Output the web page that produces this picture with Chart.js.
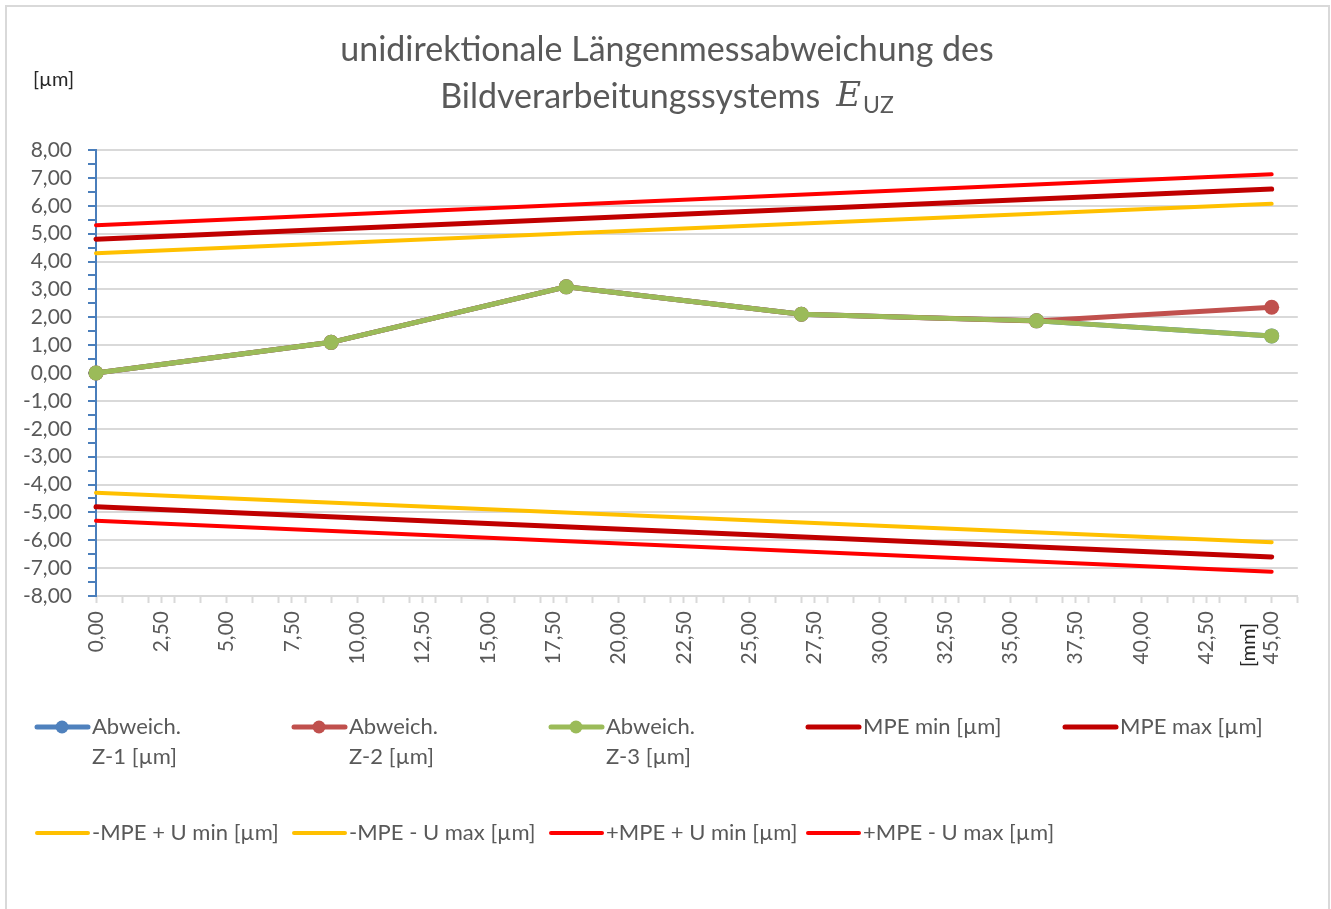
<!DOCTYPE html>
<html>
<head>
<meta charset="utf-8">
<script src="https://cdn.jsdelivr.net/npm/chart.js@4.4.1/dist/chart.umd.min.js"></script>
<style>
  html, body { margin: 0; background: #fff; }
  #box { width: 1331px; height: 909px; position: relative; }
</style>
</head>
<body>
<div id="box"><canvas id="c"></canvas></div>
<script>
// Messpositionen [mm] und Abweichungen [µm]
const positions = [0, 9, 18, 27, 36, 45];
const abweichZ1 = [0, 1.10, 3.09, 2.11, 1.87, 1.33];
const abweichZ2 = [0, 1.10, 3.09, 2.11, 1.87, 2.36];
const abweichZ3 = [0, 1.10, 3.09, 2.11, 1.87, 1.33];

// Grenzlinien (nur Anfangs- und Endpunkt)
const limitPositions = [0, 45];
const mpeMin = [-4.80, -6.60];
const mpeMax = [4.80, 6.60];
const mpeUMinNeg = [-4.30, -6.07];
const mpeUMaxNeg = [4.30, 6.07];
const mpeUMinPos = [-5.30, -7.13];
const mpeUMaxPos = [5.30, 7.13];

const seriesNames = [
  'Abweich.\nZ-1 [µm]', 'Abweich.\nZ-2 [µm]', 'Abweich.\nZ-3 [µm]',
  'MPE min [µm]', 'MPE max [µm]',
  '-MPE + U min [µm]', '-MPE - U max [µm]', '+MPE + U min [µm]', '+MPE - U max [µm]'
];

const FONT = 'Lato, "Open Sans", sans-serif';
const GREY = '#595959';
const fmt = v => v.toFixed(2).replace('.', ',');
const pts = (xs, ys) => xs.map((x, i) => ({ x, y: ys[i] }));

const dataSeries = (i, ys, color, order) => ({
  label: seriesNames[i].replace('\n', ' '),
  data: pts(positions, ys),
  borderColor: color, backgroundColor: color,
  borderWidth: 5, pointRadius: 7.5, pointHoverRadius: 7.5,
  pointBorderWidth: 0, clip: false, order
});
const limitSeries = (i, ys, color, width) => ({
  label: seriesNames[i],
  data: pts(limitPositions, ys),
  borderColor: color, backgroundColor: color,
  borderWidth: width, pointRadius: 0, borderCapStyle: 'round', clip: false, order: 10
});

const datasets = [
  dataSeries(0, abweichZ1, '#4F81BD', 3),
  dataSeries(1, abweichZ2, '#C0504D', 2),
  dataSeries(2, abweichZ3, '#9BBB59', 1),
  limitSeries(3, mpeMin, '#C00000', 5),
  limitSeries(4, mpeMax, '#C00000', 5),
  limitSeries(5, mpeUMinNeg, '#FFC000', 4),
  limitSeries(6, mpeUMaxNeg, '#FFC000', 4),
  limitSeries(7, mpeUMinPos, '#FF0000', 4),
  limitSeries(8, mpeUMaxPos, '#FF0000', 4)
];

// Rahmen, Titel, Achsenbeschriftungen und Legende
const decor = {
  id: 'decor',
  beforeDraw(chart) {
    const ctx = chart.ctx;
    ctx.save();
    ctx.fillStyle = '#fff';
    ctx.fillRect(0, 0, chart.width, chart.height);
    ctx.strokeStyle = '#D9D9D9';
    ctx.lineWidth = 2;
    ctx.strokeRect(6, 6, 1323, 940);
    ctx.restore();
  },
  afterDraw(chart) {
    const ctx = chart.ctx;
    ctx.save();
    ctx.textBaseline = 'middle';
    ctx.fillStyle = GREY;

    // Titel
    ctx.font = '34px ' + FONT;
    ctx.textAlign = 'center';
    ctx.fillText('unidirektionale Längenmessabweichung des', 667, 50);
    const t2 = 'Bildverarbeitungssystems';
    ctx.textAlign = 'left';
    const w1 = ctx.measureText(t2).width;
    ctx.font = 'italic 34px "DejaVu Serif", serif';
    const w2 = ctx.measureText('E').width;
    ctx.font = '23px ' + FONT;
    const w3 = ctx.measureText('UZ').width;
    const gap = 16;
    let x = 667 - (w1 + gap + w2 + 2 + w3) / 2;
    ctx.font = '34px ' + FONT;
    ctx.fillText(t2, x, 97);
    x += w1 + gap;
    ctx.font = 'italic 34px "DejaVu Serif", serif';
    ctx.fillText('E', x, 97);
    x += w2 + 2;
    ctx.font = '23px ' + FONT;
    ctx.fillText('UZ', x, 106);

    // Einheiten
    ctx.fillStyle = '#262626';
    ctx.font = '20px ' + FONT;
    ctx.fillText('[µm]', 33, 80);
    ctx.save();
    ctx.translate(1249, 645);
    ctx.rotate(-Math.PI / 2);
    ctx.textAlign = 'center';
    ctx.fillText('[mm]', 0, 0);
    ctx.restore();

    // Legende
    ctx.font = '22px ' + FONT;
    ctx.fillStyle = GREY;
    ctx.textAlign = 'left';
    chart.data.datasets.forEach((ds, i) => {
      const row = i < 5 ? 0 : 1;
      const col = i < 5 ? i : i - 5;
      const x0 = 35 + 257 * col;
      const y0 = row === 0 ? 727 : 833;
      ctx.strokeStyle = ds.borderColor;
      ctx.lineWidth = ds.borderWidth;
      ctx.lineCap = 'round';
      ctx.beginPath();
      ctx.moveTo(x0 + 2, y0);
      ctx.lineTo(x0 + 53, y0);
      ctx.stroke();
      if (ds.pointRadius > 0) {
        ctx.fillStyle = ds.borderColor;
        ctx.beginPath();
        ctx.arc(x0 + 27, y0, 6.5, 0, Math.PI * 2);
        ctx.fill();
      }
      ctx.fillStyle = GREY;
      seriesNames[i].split('\n').forEach((line, k) => {
        ctx.fillText(line, x0 + 57, y0 + k * 30);
      });
    });
    ctx.restore();
  }
};

new Chart(document.getElementById('c'), {
  type: 'line',
  data: { datasets },
  options: {
    responsive: true,
    maintainAspectRatio: false,
    animation: false,
    devicePixelRatio: 1,
    layout: { padding: { top: 150, right: 31, left: 0, bottom: 0 } },
    plugins: { legend: { display: false }, title: { display: false }, tooltip: { enabled: false } },
    scales: {
      x: {
        type: 'linear', min: 0, max: 46,
        afterFit(scale) { scale.height = 313; },
        border: { color: '#D9D9D9', width: 2 },
        grid: {
          drawOnChartArea: false,
          tickLength: 7,
          tickWidth: 2,
          tickColor: c => (Number.isInteger(c.tick.value) || c.tick.value % 2.5 === 0) ? '#D9D9D9' : 'rgba(0,0,0,0)'
        },
        ticks: {
          stepSize: 0.5, autoSkip: false, maxRotation: 90, minRotation: 90, padding: 8,
          color: GREY, font: { family: FONT, size: 21 },
          callback: v => (v % 2.5 === 0 && v <= 45) ? fmt(v) : ''
        }
      },
      y: {
        type: 'linear', min: -8, max: 8,
        afterFit(scale) { scale.width = 96; },
        border: { color: '#4A7EBB', width: 2 },
        grid: {
          color: c => Number.isInteger(c.tick.value) ? '#D9D9D9' : 'rgba(0,0,0,0)',
          lineWidth: 2,
          tickLength: 8,
          tickWidth: 2,
          tickColor: '#4A7EBB'
        },
        ticks: {
          stepSize: 0.5, autoSkip: false, padding: 16,
          color: GREY, font: { family: FONT, size: 21 },
          callback: v => Number.isInteger(v) ? fmt(v) : ''
        }
      }
    }
  },
  plugins: [decor]
});
</script>
</body>
</html>
